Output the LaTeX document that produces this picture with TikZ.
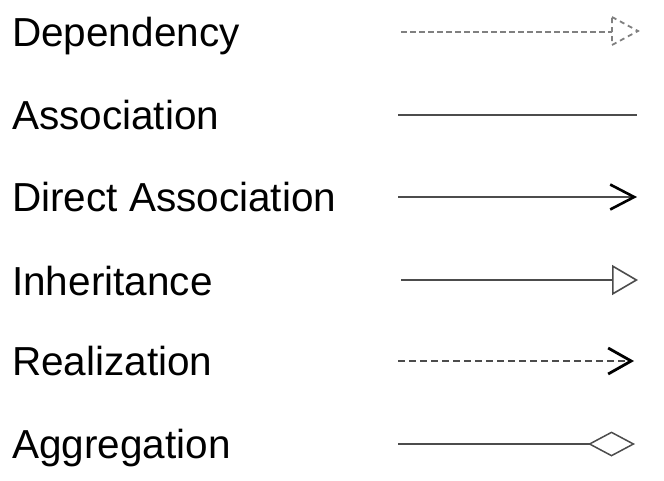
\documentclass[tikz,border=0pt]{standalone}
\usepackage{fontspec}
\setmainfont{Liberation Sans}
\usetikzlibrary{arrows.meta}
\begin{document}
\begin{tikzpicture}[x=1pt,y=-1pt,
  lbl/.style={anchor=base west, inner sep=0pt, font=\fontsize{40.5}{48}\selectfont},
  conn/.style={line width=1.8pt, draw=black!70},
  lightconn/.style={line width=1.8pt, draw=black!50},
  dsh/.style={dash pattern=on 6pt off 3pt},
  dshb/.style={dash pattern=on 7pt off 4pt}]
\useasboundingbox (0,0) rectangle (664,480);

% labels
\node[lbl] (tdep) at (12,46) {Dependency};
\node[lbl] (tass) at (12,129) {Association};
\node[lbl] (tdir) at (12,211) {Direct Association};
\node[lbl] (tinh) at (12,295) {Inheritance};
\node[lbl] (trea) at (12,375) {Realization};
\node[lbl] (tagg) at (12,458) {Aggregation};

% end points
\coordinate (dep1) at (401,32);  \coordinate (dep2) at (612,32);
\coordinate (ass1) at (398,115); \coordinate (ass2) at (637,115);
\coordinate (dir1) at (398,197); \coordinate (dir2) at (637,197);
\coordinate (inh1) at (401,280); \coordinate (inh2) at (638,280);
\coordinate (rea1) at (398,361); \coordinate (rea2) at (634,361);
\coordinate (agg1) at (398,444); \coordinate (agg2) at (635,444);

% Dependency
\draw[lightconn, dsh] (dep1) -- (dep2);
\draw[lightconn, dash pattern=on 5pt off 4pt, line join=miter]
  (612,17) -- (638,31) -- (612,45) -- cycle;

% Association
\draw[conn] (ass1) -- (ass2);

% Direct Association
\draw[conn, -{Straight Barb[length=24pt, width=25pt, line width=2.6pt, color=black]}] (dir1) -- (dir2);

% Inheritance
\draw[conn, -{Triangle[open, length=26pt, width=30pt, line width=1.6pt]}] (inh1) -- (inh2);

% Realization
\draw[conn, dshb, -{Straight Barb[length=23pt, width=26pt, line width=2.8pt, color=black]}] (rea1) -- (rea2);

% Aggregation
\draw[conn, -{Diamond[open, length=47pt, width=25pt, line width=1.5pt]}] (agg1) -- (agg2);
\end{tikzpicture}
\end{document}
